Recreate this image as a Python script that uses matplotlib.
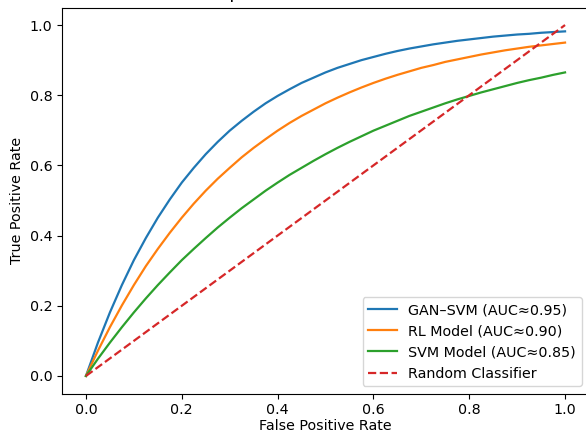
import matplotlib
matplotlib.use("Agg")
import matplotlib.pyplot as plt

fpr = [0.0, 0.025, 0.05, 0.075, 0.1, 0.125, 0.15, 0.175, 0.2, 0.225, 0.25,
       0.275, 0.3, 0.325, 0.35, 0.375, 0.4, 0.425, 0.45, 0.475, 0.5,
       0.525, 0.55, 0.575, 0.6, 0.625, 0.65, 0.675, 0.7, 0.725, 0.75,
       0.775, 0.8, 0.825, 0.85, 0.875, 0.9, 0.925, 0.95, 0.975, 1.0]

tpr_gan_svm = [0.0, 0.095, 0.181, 0.259, 0.330, 0.393, 0.451, 0.503, 0.551, 0.593, 0.632,
               0.667, 0.699, 0.727, 0.753, 0.777, 0.798, 0.817, 0.835, 0.850, 0.865,
               0.878, 0.889, 0.900, 0.909, 0.918, 0.926, 0.933, 0.939, 0.945, 0.950,
               0.955, 0.959, 0.963, 0.967, 0.970, 0.973, 0.975, 0.978, 0.980, 0.982]

tpr_rl = [0.0, 0.072, 0.139, 0.201, 0.259, 0.313, 0.362, 0.408, 0.451, 0.491, 0.528,
          0.562, 0.593, 0.623, 0.650, 0.675, 0.699, 0.721, 0.741, 0.759, 0.777,
          0.793, 0.808, 0.822, 0.835, 0.847, 0.858, 0.868, 0.878, 0.886, 0.895,
          0.902, 0.909, 0.916, 0.922, 0.928, 0.933, 0.938, 0.942, 0.946, 0.950]

tpr_svm = [0.0, 0.049, 0.095, 0.139, 0.181, 0.221, 0.259, 0.295, 0.330, 0.362, 0.393,
           0.423, 0.451, 0.478, 0.503, 0.528, 0.551, 0.573, 0.593, 0.613, 0.632,
           0.650, 0.667, 0.683, 0.699, 0.713, 0.727, 0.741, 0.753, 0.765, 0.777,
           0.788, 0.798, 0.808, 0.817, 0.826, 0.835, 0.843, 0.850, 0.858, 0.865]

random_x = [0.0, 1.0]
random_y = [0.0, 1.0]

labels = ["GAN\u2013SVM (AUC\u22480.95)", "RL Model (AUC\u22480.90)",
          "SVM Model (AUC\u22480.85)", "Random Classifier"]

fs = 10.3
fig = plt.figure(figsize=(5.86, 4.34), dpi=100)
ax = fig.add_axes([62 / 586, (434 - 393.5) / 434, 527 / 586, 386 / 434])

ax.plot(fpr, tpr_gan_svm, color="#1f77b4", lw=1.6, label=labels[0])
ax.plot(fpr, tpr_rl, color="#ff7f0e", lw=1.6, label=labels[1])
ax.plot(fpr, tpr_svm, color="#2ca02c", lw=1.6, label=labels[2])
ax.plot(random_x, random_y, color="#d62728", ls="--", lw=1.6, label=labels[3])

ax.set_xlabel("False Positive Rate", fontsize=fs, labelpad=1.5)
ax.set_ylabel("True Positive Rate", fontsize=fs)
ax.tick_params(labelsize=fs)
ax.set_title("ROC Curve Comparison of Classification Models", fontsize=12.5,
             x=0.446, pad=6.5)
ax.legend(loc="lower right", fontsize=fs)

fig.savefig("out.png", dpi=100)
